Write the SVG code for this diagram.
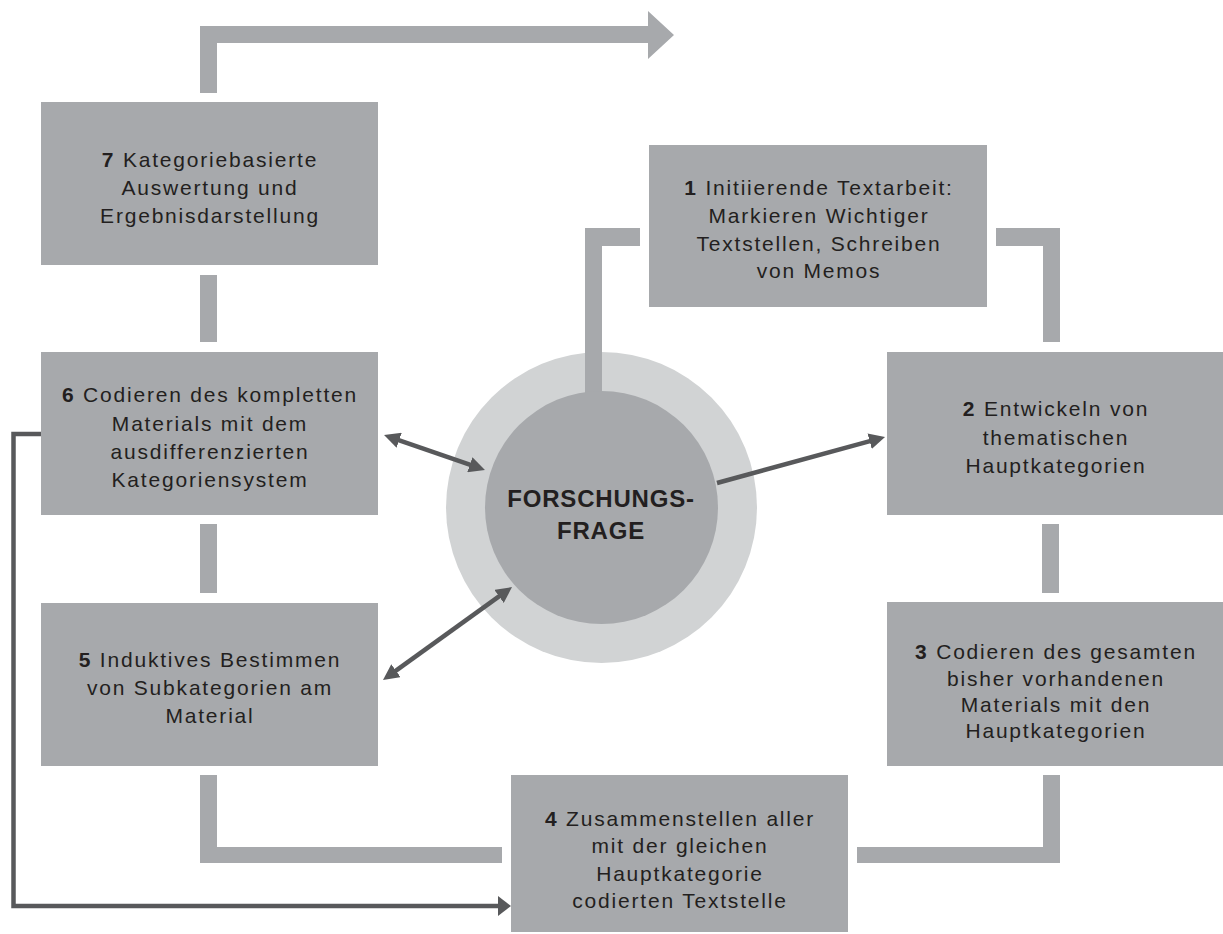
<svg xmlns="http://www.w3.org/2000/svg" width="1223" height="934" viewBox="0 0 1223 934">
<style>
.box{fill:#a7a9ac}
.bar{fill:#a7a9ac}
.t{font-family:"Liberation Sans",Arial,sans-serif;font-size:21px;fill:#231f20;text-anchor:middle;letter-spacing:1.8px}
.n{font-weight:bold}
.c{font-family:"Liberation Sans",Arial,sans-serif;font-size:24px;font-weight:bold;fill:#231f20;text-anchor:middle;letter-spacing:0.8px}
.dk{fill:none;stroke:#58595b;stroke-width:4.5}
</style>
<defs>
<marker id="ah" viewBox="0 0 16 16" refX="6" refY="8" markerWidth="16" markerHeight="16" markerUnits="userSpaceOnUse" orient="auto-start-reverse">
<path d="M0,0 L16,8 L0,16 Z" fill="#58595b"/>
</marker>
<marker id="ahb" viewBox="0 0 13 20" refX="1" refY="10" markerWidth="13" markerHeight="20" markerUnits="userSpaceOnUse" orient="auto">
<path d="M0,0 L13,10 L0,20 Z" fill="#58595b"/>
</marker>
</defs>
<rect width="1223" height="934" fill="#ffffff"/>

<g id="center">
<circle cx="601.5" cy="507.5" r="155.5" fill="#d1d3d4"/>
</g>

<g id="connectors">
<path class="bar" d="M200,93 V26 H648 V11 L674,35 L648,59 V43 H217 V93 Z"/>
<rect class="bar" x="200" y="275" width="17" height="67"/>
<rect class="bar" x="200" y="524" width="17" height="69"/>
<path class="bar" d="M200,775 H217 V847 H502 V863 H200 Z"/>
<path class="bar" d="M1043,775 H1060 V863 H857 V847 H1043 Z"/>
<rect class="bar" x="1042" y="524" width="17" height="69"/>
<path class="bar" d="M996,228 H1060 V342 H1043 V246 H996 Z"/>
<path class="bar" d="M640,228 V246 H602 V400 H585 V228 Z"/>
<line class="dk" x1="393.5" y1="438.3" x2="475.5" y2="466.7" marker-start="url(#ah)" marker-end="url(#ah)"/>
<line class="dk" x1="717" y1="483" x2="875.4" y2="439.6" marker-end="url(#ah)"/>
<line class="dk" x1="391.1" y1="674.2" x2="503.9" y2="592.9" marker-start="url(#ah)" marker-end="url(#ah)"/>
<path class="dk" d="M41,434 H13.5 V906 H499" marker-end="url(#ahb)"/>
</g>

<g id="center-inner">
<circle cx="601.5" cy="507.5" r="116.5" fill="#a7a9ac"/>
<text class="c" x="601" y="507">FORSCHUNGS-</text>
<text class="c" x="601" y="539">FRAGE</text>
</g>

<g id="n7">
<rect class="box" x="41" y="102" width="337" height="163"/>
<text class="t" x="210" y="167"><tspan class="n">7</tspan> Kategoriebasierte</text>
<text class="t" x="210" y="195">Auswertung und</text>
<text class="t" x="210" y="223">Ergebnisdarstellung</text>
</g>

<g id="n1">
<rect class="box" x="649" y="145" width="338" height="162"/>
<text class="t" x="819" y="195"><tspan class="n">1</tspan> Initiierende Textarbeit:</text>
<text class="t" x="819" y="223">Markieren Wichtiger</text>
<text class="t" x="819" y="251">Textstellen, Schreiben</text>
<text class="t" x="819" y="278">von Memos</text>
</g>

<g id="n6">
<rect class="box" x="41" y="352" width="337" height="163"/>
<text class="t" x="210" y="402"><tspan class="n">6</tspan> Codieren des kompletten</text>
<text class="t" x="210" y="431">Materials mit dem</text>
<text class="t" x="210" y="459">ausdifferenzierten</text>
<text class="t" x="210" y="487">Kategoriensystem</text>
</g>

<g id="n2">
<rect class="box" x="887" y="352" width="336" height="163"/>
<text class="t" x="1056" y="416"><tspan class="n">2</tspan> Entwickeln von</text>
<text class="t" x="1056" y="445">thematischen</text>
<text class="t" x="1056" y="473">Hauptkategorien</text>
</g>

<g id="n5">
<rect class="box" x="41" y="603" width="337" height="163"/>
<text class="t" x="210" y="667"><tspan class="n">5</tspan> Induktives Bestimmen</text>
<text class="t" x="210" y="695">von Subkategorien am</text>
<text class="t" x="210" y="723">Material</text>
</g>

<g id="n3">
<rect class="box" x="887" y="602" width="336" height="164"/>
<text class="t" x="1056" y="659"><tspan class="n">3</tspan> Codieren des gesamten</text>
<text class="t" x="1056" y="686">bisher vorhandenen</text>
<text class="t" x="1056" y="712">Materials mit den</text>
<text class="t" x="1056" y="738">Hauptkategorien</text>
</g>

<g id="n4">
<rect class="box" x="511" y="775" width="337" height="157"/>
<text class="t" x="680" y="826"><tspan class="n">4</tspan> Zusammenstellen aller</text>
<text class="t" x="680" y="853">mit der gleichen</text>
<text class="t" x="680" y="881">Hauptkategorie</text>
<text class="t" x="680" y="908">codierten Textstelle</text>
</g>
</svg>
